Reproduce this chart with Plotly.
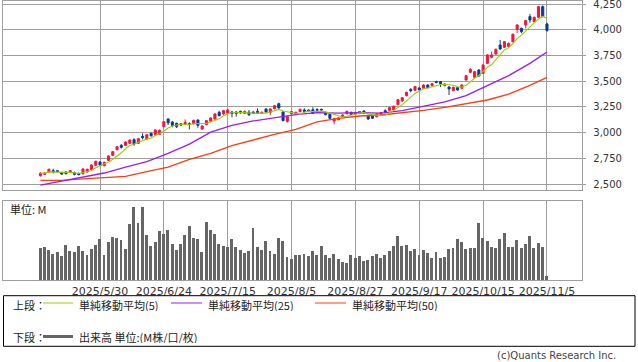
import plotly.graph_objects as go
import pandas as pd

# ---------------- data ----------------
tick_idx = [14, 29, 44, 59, 74, 89, 104, 119]
tick_labels = ["2025/5/30", "2025/6/24", "2025/7/15", "2025/8/5",
               "2025/8/27", "2025/9/17", "2025/10/15", "2025/11/5"]

opens = [2581, 2594, 2617, 2630, 2630, 2610, 2617, 2617, 2610, 2604,
         2600, 2617, 2639, 2682, 2714, 2678, 2730, 2779, 2834, 2876,
         2876, 2896, 2932, 2896, 2964, 2938, 2993, 2977, 2983, 3058,
         3133, 3104, 3091, 3087, 3087, 3087, 3087, 3123, 3035, 3078,
         3113, 3133, 3198, 3182, 3188, 3201, 3201, 3208, 3188, 3198,
         3201, 3208, 3188, 3231, 3198, 3234, 3282, 3201, 3110, 3185,
         3185, 3205, 3221, 3221, 3224, 3224, 3227, 3198, 3179, 3113,
         3126, 3156, 3185, 3198, 3182, 3192, 3211, 3165, 3162, 3156,
         3179, 3214, 3218, 3221, 3273, 3308, 3360, 3422, 3413, 3435,
         3432, 3464, 3458, 3497, 3497, 3458, 3445, 3409, 3438, 3432,
         3513, 3588, 3539, 3610, 3578, 3675, 3734, 3766, 3854, 3831,
         3838, 3886, 4006, 4016, 4049, 4130, 4081, 4123, 4227, 4058]
highs = [2614, 2613, 2649, 2649, 2636, 2617, 2623, 2636, 2620, 2610,
         2652, 2649, 2691, 2727, 2720, 2717, 2779, 2821, 2870, 2889,
         2915, 2935, 2945, 2948, 2993, 2987, 3000, 3032, 3032, 3113,
         3140, 3110, 3097, 3094, 3129, 3100, 3126, 3130, 3071, 3123,
         3149, 3188, 3214, 3221, 3227, 3208, 3208, 3214, 3214, 3221,
         3208, 3237, 3204, 3237, 3237, 3269, 3292, 3208, 3162, 3211,
         3204, 3234, 3237, 3227, 3247, 3237, 3234, 3204, 3185, 3143,
         3149, 3178, 3214, 3204, 3201, 3211, 3217, 3172, 3169, 3188,
         3201, 3227, 3250, 3263, 3328, 3347, 3399, 3432, 3455, 3441,
         3471, 3471, 3484, 3506, 3503, 3480, 3451, 3448, 3445, 3471,
         3562, 3627, 3601, 3617, 3666, 3763, 3789, 3818, 3903, 3893,
         3877, 3965, 4055, 4023, 4098, 4156, 4130, 4234, 4240, 4071]
lows = [2571, 2587, 2610, 2604, 2614, 2590, 2594, 2610, 2584, 2584,
        2594, 2610, 2633, 2675, 2678, 2672, 2724, 2772, 2827, 2844,
        2870, 2889, 2873, 2889, 2935, 2931, 2961, 2970, 2977, 3052,
        3074, 3052, 3045, 3068, 3081, 3032, 3081, 3048, 3029, 3071,
        3107, 3126, 3159, 3175, 3182, 3149, 3156, 3185, 3182, 3162,
        3182, 3182, 3182, 3195, 3172, 3227, 3234, 3110, 3097, 3178,
        3178, 3198, 3195, 3204, 3182, 3208, 3214, 3169, 3133, 3081,
        3120, 3149, 3178, 3172, 3175, 3185, 3185, 3126, 3133, 3149,
        3172, 3188, 3211, 3214, 3266, 3302, 3354, 3393, 3406, 3412,
        3425, 3432, 3451, 3480, 3445, 3451, 3367, 3403, 3409, 3425,
        3506, 3578, 3533, 3545, 3572, 3669, 3724, 3760, 3805, 3825,
        3831, 3880, 3968, 3968, 4016, 4071, 4075, 4117, 4123, 3984]
closes = [2604, 2607, 2643, 2617, 2620, 2597, 2600, 2630, 2594, 2591,
          2646, 2643, 2685, 2721, 2685, 2711, 2773, 2815, 2863, 2857,
          2909, 2928, 2889, 2941, 2951, 2980, 2970, 3026, 3022, 3107,
          3097, 3071, 3058, 3074, 3100, 3081, 3120, 3071, 3065, 3117,
          3143, 3182, 3165, 3214, 3221, 3188, 3188, 3192, 3208, 3175,
          3188, 3188, 3198, 3201, 3231, 3263, 3240, 3117, 3156, 3205,
          3198, 3227, 3208, 3211, 3188, 3218, 3221, 3175, 3140, 3136,
          3143, 3172, 3208, 3179, 3195, 3205, 3192, 3133, 3140, 3182,
          3195, 3201, 3244, 3257, 3321, 3341, 3393, 3409, 3448, 3419,
          3464, 3438, 3477, 3490, 3477, 3474, 3425, 3442, 3416, 3464,
          3555, 3617, 3594, 3552, 3659, 3757, 3757, 3812, 3815, 3886,
          3870, 3958, 4049, 3984, 4091, 4097, 4123, 4227, 4130, 3994]
volumes = [4.09, 4.18, 3.80, 3.29, 3.54, 3.04, 4.43, 3.67, 3.54, 4.30,
           3.67, 3.16, 3.92, 4.43, 5.19, 3.16, 4.81, 5.40, 5.32, 5.06,
           3.92, 7.09, 9.24, 7.22, 9.24, 5.70, 4.30, 4.81, 6.20, 5.82,
           6.33, 4.56, 3.80, 4.56, 5.70, 6.84, 5.32, 5.19, 3.54, 7.34,
           6.33, 5.82, 4.56, 4.30, 4.18, 5.19, 4.18, 3.80, 3.42, 3.67,
           6.58, 4.18, 3.80, 4.94, 3.67, 3.29, 5.32, 4.94, 2.91, 2.66,
           3.16, 3.16, 3.29, 3.04, 3.67, 3.16, 4.30, 3.16, 2.78, 3.29,
           2.66, 2.28, 2.15, 3.16, 2.78, 3.04, 2.41, 2.53, 3.04, 3.29,
           2.78, 3.16, 3.67, 4.30, 5.57, 4.30, 4.43, 3.67, 3.92, 3.16,
           3.80, 3.42, 2.78, 3.54, 2.78, 2.91, 3.92, 4.05, 5.19, 4.81,
           3.92, 4.05, 4.05, 7.22, 5.32, 4.94, 4.18, 4.05, 5.19, 5.95,
           4.18, 4.18, 5.06, 4.05, 4.56, 5.57, 4.05, 4.68, 4.18, 0.51]

ma_idx = [0, 5, 10, 15, 20, 25, 30, 35, 40, 45, 50, 55, 60, 65, 70, 75,
          80, 85, 90, 95, 100, 105, 110, 115, 119]
ma25 = [2490, 2529, 2562, 2607, 2665, 2717, 2799, 2889, 3005, 3071, 3114,
        3146, 3175, 3195, 3191, 3195, 3191, 3214, 3253, 3299, 3360, 3455,
        3555, 3675, 3786]
ma50 = [2536, 2536, 2549, 2560, 2575, 2620, 2665, 2740, 2799, 2873, 2932,
        2984, 3032, 3104, 3140, 3162, 3172, 3191, 3217, 3247, 3279, 3318,
        3376, 3461, 3539]

price_ticks = [2500, 2750, 3000, 3250, 3500, 3750, 4000, 4250]

# ---------------- style ----------------
W, H = 638, 362
RED = "#F5143F"
BLUE = "#0B3A94"
C5 = "#9ACD00"
C25 = "#9B1BF5"
C50 = "#FF3D0A"
GRID = "#9E9E9E"
VOLC = "#666666"
JP = "Noto Sans CJK JP"
NUM = "DejaVu Sans"

def px_x(p):
    return p / W

def px_y(p):
    return 1 - p / H

idx = list(range(len(closes)))
ma5 = pd.Series(closes).rolling(5, min_periods=1).mean().tolist()

x_dom = [px_x(3.3), px_x(582.3)]
x_rng = [-8.72, 127.3]

fig = go.Figure()
fig.add_trace(go.Candlestick(
    x=idx, open=opens, high=highs, low=lows, close=closes,
    increasing=dict(line=dict(color=RED, width=1), fillcolor=RED),
    decreasing=dict(line=dict(color=BLUE, width=1), fillcolor=BLUE),
    whiskerwidth=0, xaxis="x", yaxis="y", hoverinfo="skip"))
fig.add_trace(go.Scatter(x=ma_idx, y=ma50, mode="lines",
                         line=dict(color=C50, width=1.3), xaxis="x", yaxis="y"))
fig.add_trace(go.Scatter(x=ma_idx, y=ma25, mode="lines",
                         line=dict(color=C25, width=1.3), xaxis="x", yaxis="y"))
fig.add_trace(go.Scatter(x=idx, y=ma5, mode="lines",
                         line=dict(color=C5, width=1.1), xaxis="x", yaxis="y"))
fig.add_trace(go.Bar(x=idx, y=volumes, width=0.68, marker=dict(color=VOLC, line=dict(width=0)),
                     xaxis="x2", yaxis="y2"))

axis_common = dict(showline=True, mirror=True, linecolor=GRID, linewidth=1,
                   zeroline=False, showgrid=True, gridcolor=GRID, gridwidth=1,
                   automargin=False)

fig.update_layout(
    width=W, height=H,
    margin=dict(l=0, r=0, t=0, b=0, pad=0, autoexpand=False),
    paper_bgcolor="white", plot_bgcolor="white",
    showlegend=False, bargap=0,
    xaxis=dict(domain=x_dom, range=x_rng, tickvals=tick_idx, showticklabels=False,
               ticks="", rangeslider=dict(visible=False), anchor="y", **axis_common),
    yaxis=dict(domain=[px_y(190.3), px_y(0.5)], range=[2438.6, 4287], side="right",
               tickvals=price_ticks, tickformat=",d", ticks="outside", ticklen=3,
               ticklabelstandoff=5, ticklabeloverflow="allow",
               tickcolor=GRID, tickfont=dict(family=NUM, size=10, color="#333333"),
               anchor="x", **axis_common),
    xaxis2=dict(domain=x_dom, range=x_rng, tickvals=tick_idx, ticktext=tick_labels,
                ticks="", tickfont=dict(family=NUM, size=11, color="#333333"),
                ticklabeloverflow="allow", anchor="y2", **axis_common),
    yaxis2=dict(domain=[px_y(280.3), px_y(201)], range=[0, 10], side="right",
                showticklabels=False, ticks="", anchor="x2", automargin=False,
                showline=True, mirror=True, linecolor=GRID, linewidth=1,
                zeroline=False, showgrid=False),
)

shapes = []
annotations = []

# 単位 label
annotations.append(dict(x=px_x(8), y=px_y(209), xref="paper", yref="paper",
                        text="単位: M", showarrow=False, xanchor="left", yanchor="middle",
                        font=dict(family=JP, size=11, color="#222222")))

# legend box
shapes.append(dict(type="rect", xref="paper", yref="paper",
                   x0=px_x(3.5), x1=px_x(635), y0=px_y(346.3), y1=px_y(295.7),
                   line=dict(color="#000000", width=1), fillcolor="rgba(0,0,0,0)"))

row1, row2 = 304, 336.5
ann_font = dict(family=JP, size=11, color="#222222")
annotations.append(dict(x=px_x(12), y=px_y(row1), xref="paper", yref="paper",
                        text="上段：", showarrow=False, xanchor="left", yanchor="middle",
                        height=13, borderpad=0, font=ann_font))
annotations.append(dict(x=px_x(12), y=px_y(row2), xref="paper", yref="paper",
                        text="下段：", showarrow=False, xanchor="left", yanchor="middle",
                        height=13, borderpad=0, font=ann_font))

legend_items = [(43, 73, 78, C5, "単純移動平均(5)"),
                (171, 202, 207, C25, "単純移動平均(25)"),
                (315, 346, 351, C50, "単純移動平均(50)")]
for x0, x1, tx, col, label in legend_items:
    shapes.append(dict(type="line", xref="paper", yref="paper",
                       x0=px_x(x0), x1=px_x(x1), y0=px_y(303), y1=px_y(303),
                       line=dict(color=col, width=1)))
    annotations.append(dict(x=px_x(tx), y=px_y(row1), xref="paper", yref="paper",
                            text=label, showarrow=False, xanchor="left", yanchor="middle",
                            height=13, borderpad=0, font=ann_font))

shapes.append(dict(type="line", xref="paper", yref="paper",
                   x0=px_x(43), x1=px_x(73), y0=px_y(row2), y1=px_y(row2),
                   line=dict(color=VOLC, width=3)))
annotations.append(dict(x=px_x(78), y=px_y(row2), xref="paper", yref="paper",
                        text="出来高 単位:(M株/口/枚)", showarrow=False,
                        xanchor="left", yanchor="middle", height=13, borderpad=0,
                        font=ann_font))

annotations.append(dict(x=px_x(618), y=px_y(355), xref="paper", yref="paper",
                        text="(c)Quants Research Inc.", showarrow=False,
                        xanchor="right", yanchor="middle",
                        font=dict(family=NUM, size=10, color="#444444")))

fig.update_layout(shapes=shapes, annotations=annotations)
fig.write_html("out.html", config={"displayModeBar": False},
               post_script="document.body.style.margin='0px';document.body.style.padding='0px';document.body.style.overflow='hidden';")
